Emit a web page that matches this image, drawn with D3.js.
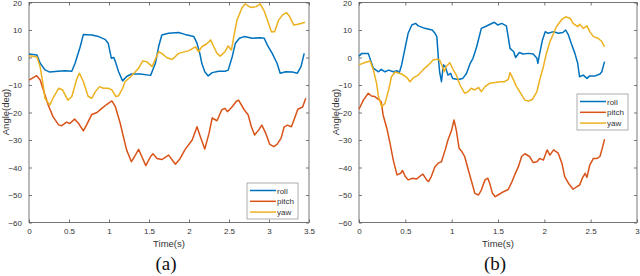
<!DOCTYPE html>
<html><head><meta charset="utf-8">
<script src="https://cdn.jsdelivr.net/npm/d3@7"></script>
<style>
html,body{margin:0;padding:0;background:#fff;}
svg{display:block;font-family:"Liberation Sans",Arial,sans-serif;}
</style></head>
<body><svg id="c" width="640" height="276"></svg>
<script>
// ---------- DATA ----------
const seriesNames = ["roll", "pitch", "yaw"];
const yTicks = [-60, -50, -40, -30, -20, -10, 0, 10, 20];
const xTicksA = [0, 0.5, 1, 1.5, 2, 2.5, 3, 3.5];
const xTicksB = [0, 0.5, 1, 1.5, 2, 2.5, 3];
const panelLabels = ["(a)", "(b)"];

const rollA_t = [0,0.1,0.14,0.2,0.26,0.36,0.45,0.535,0.576,0.64,0.68,0.785,0.87,0.95,0.99,1.03,1.06,1.08,1.12,1.17,1.22,1.28,1.39,1.52,1.58,1.62,1.66,1.745,1.87,1.95,2.06,2.10,2.135,2.16,2.197,2.24,2.29,2.37,2.45,2.49,2.54,2.58,2.63,2.69,2.79,2.89,2.94,2.98,3.04,3.10,3.14,3.21,3.29,3.355,3.40,3.44];
const rollA_v = [1.3,0.9,-2.1,-4.5,-5.3,-5,-4.8,-5,-2.1,3.9,8.4,8.2,7.6,6.6,5.2,-0.3,0,-1.5,-5.2,-8.5,-6.9,-6,-6,-6.5,-2.1,3.9,8.2,8.8,9.1,8.4,7.6,5.2,1.5,-2.1,-5.2,-6.7,-5.5,-5,-5,-4.6,0.3,5.2,7.0,7.6,7.0,7.2,7,4.5,1.5,-2.1,-5.7,-5.2,-5.3,-5.7,-3.3,1.5];

const pitchA_t = [0,0.096,0.14,0.18,0.24,0.30,0.37,0.41,0.47,0.51,0.57,0.62,0.68,0.72,0.785,0.85,0.91,0.97,1.036,1.08,1.14,1.18,1.22,1.28,1.32,1.37,1.41,1.46,1.52,1.55,1.60,1.66,1.745,1.83,1.89,1.95,2.04,2.10,2.14,2.197,2.25,2.29,2.35,2.41,2.45,2.48,2.54,2.59,2.62,2.69,2.74,2.78,2.82,2.87,2.91,2.96,3.01,3.06,3.10,3.15,3.19,3.23,3.28,3.32,3.36,3.42,3.46];
const pitchA_v = [-8.2,-6.6,-8.2,-11.8,-17.3,-21.5,-24.5,-24.8,-23.5,-24,-22.4,-24,-26.7,-24.5,-20.7,-20,-18.5,-17.1,-15.8,-17.9,-23.9,-28.8,-33.6,-37.9,-36,-33.4,-36,-39.3,-36,-35,-36.7,-37.1,-35.5,-38.8,-36.7,-33.5,-30,-25.2,-28.6,-33.3,-27.6,-22,-23,-19,-18.5,-19.7,-17.9,-16,-15.5,-19,-20.9,-25.2,-28.2,-26.4,-24.6,-27.6,-31.6,-32.4,-31.6,-29.4,-25.2,-24.6,-25.2,-22.1,-18.8,-18,-14.8];

const yawA_t = [0,0.1,0.14,0.18,0.2,0.26,0.30,0.37,0.42,0.485,0.535,0.60,0.63,0.68,0.74,0.785,0.83,0.88,0.93,0.995,1.036,1.086,1.12,1.17,1.20,1.27,1.33,1.37,1.42,1.47,1.54,1.58,1.62,1.66,1.72,1.79,1.87,2.0,2.08,2.12,2.16,2.22,2.27,2.31,2.35,2.39,2.45,2.49,2.53,2.56,2.60,2.66,2.70,2.77,2.84,2.89,2.94,2.98,3.03,3.07,3.12,3.17,3.22,3.26,3.31,3.36,3.40,3.45];
const yawA_v = [0.6,0.2,-3.5,-10.6,-14.8,-17.3,-14.8,-11.2,-11.8,-15.5,-14.2,-7.6,-5.7,-8.8,-14.2,-14.8,-12.4,-10.6,-11.2,-11.2,-11.8,-14.2,-13.9,-11.2,-8.8,-7.0,-5.2,-3.9,-1.3,-1.5,-3.3,-0.6,2.1,1.5,0,-0.7,1.5,2.5,3.9,2.1,3.9,4.9,6.4,3.9,1.5,0.5,2.1,4.2,2.7,7.6,13.6,17.9,19.5,18.2,18.5,19.5,16.9,13.6,9.4,9.4,13.6,15.5,16.3,14.8,11.8,12.1,12.4,12.8];

const rollB_t = [0,0.03,0.10,0.13,0.155,0.21,0.24,0.28,0.32,0.37,0.41,0.435,0.46,0.50,0.53,0.57,0.61,0.64,0.71,0.79,0.82,0.84,0.855,0.87,0.89,0.91,0.93,0.96,0.99,1.01,1.07,1.12,1.16,1.20,1.23,1.27,1.32,1.36,1.41,1.46,1.50,1.54,1.59,1.61,1.63,1.67,1.69,1.73,1.77,1.83,1.88,1.92,1.93,1.95,1.98,2.01,2.04,2.10,2.15,2.20,2.23,2.26,2.29,2.33,2.36,2.38,2.42,2.46,2.49,2.55,2.60,2.62,2.64,2.65];
const rollB_v = [0.5,1.5,1.5,-1.5,-3.9,-5.2,-4.3,-5.2,-4.6,-5.2,-4.8,-5.5,-2.7,3.9,8.8,11.8,12.4,11.5,10.6,10,8.8,7.6,0.3,-5.2,-8.8,-2.7,-3.3,-6.4,-5.8,-7.6,-8,-7.6,-5.8,-2.1,-0.3,3.9,10.6,11.2,12.0,12.8,11.8,12.4,11.5,7.6,3.3,2.1,0,1.8,1.3,1.5,1.3,-0.3,-2.1,1.5,6.4,9.4,8.8,9.4,8.8,9.1,10,8.2,5.2,1.5,-2.1,-7,-6.4,-7.6,-6.7,-6.7,-6.0,-5.2,-2.7,-1.5];

const pitchB_t = [0,0.047,0.10,0.135,0.17,0.21,0.24,0.26,0.30,0.335,0.37,0.41,0.45,0.47,0.50,0.53,0.58,0.62,0.66,0.69,0.73,0.75,0.78,0.82,0.86,0.89,0.93,0.96,1.0,1.025,1.05,1.08,1.11,1.14,1.18,1.22,1.25,1.29,1.32,1.36,1.39,1.41,1.44,1.47,1.50,1.56,1.61,1.65,1.68,1.72,1.755,1.79,1.84,1.88,1.92,1.95,1.99,2.03,2.06,2.10,2.15,2.19,2.22,2.26,2.31,2.35,2.38,2.41,2.44,2.46,2.49,2.53,2.57,2.60,2.63,2.65];
const pitchB_v = [-18.8,-15.5,-13,-14,-14.2,-15.2,-16.1,-20.9,-25.7,-31.2,-37.3,-42.7,-42.1,-41.1,-43.3,-44.5,-43.9,-44.2,-43.1,-42.4,-44.5,-45.1,-43.3,-39.7,-38.3,-37.9,-33.6,-30,-26.4,-22.7,-26.4,-33,-34.2,-36,-40.9,-45.7,-49.4,-50,-48.2,-44.5,-43.9,-45.7,-49.4,-50.6,-50,-48.8,-48,-45.2,-42.7,-39.7,-36,-35,-36,-38.2,-37.9,-36.7,-37.3,-33.6,-35.5,-33.6,-34.8,-38.5,-43.3,-45.7,-47.9,-47,-46.4,-43.9,-42.1,-43.6,-39.1,-36.7,-36.7,-36,-32.4,-29.7];

const yawB_t = [0,0.065,0.12,0.155,0.19,0.21,0.245,0.28,0.32,0.35,0.39,0.46,0.515,0.55,0.59,0.64,0.69,0.75,0.80,0.84,0.87,0.90,0.92,0.94,0.98,1.01,1.05,1.09,1.14,1.18,1.21,1.25,1.29,1.32,1.36,1.41,1.47,1.52,1.57,1.61,1.63,1.66,1.70,1.755,1.79,1.83,1.87,1.92,1.95,1.99,2.02,2.06,2.10,2.13,2.19,2.23,2.28,2.31,2.36,2.38,2.42,2.46,2.49,2.53,2.58,2.62,2.65];
const yawB_v = [-2.7,-1.8,-1.3,-4.5,-9.4,-14.2,-17.9,-16.7,-11.8,-7,-5.3,-6,-7.2,-8.8,-7.3,-6.4,-4.5,-2.7,-0.9,-0.6,-0.9,-3.3,-5.2,-3.3,-1.9,-4,-6.4,-10,-13,-12.4,-11.2,-11.8,-10.9,-12.4,-10.6,-9.4,-9.1,-8.8,-8.8,-8,-5.5,-7.6,-10.6,-13.6,-15.5,-15.8,-15.3,-12.4,-8.2,-3.3,1.2,5.7,8.8,11.2,13.9,14.8,14.2,12.4,11.2,12.1,10.6,11.5,9.4,7.6,7,5.8,3.9];

// ---------- DRAW ----------
const colors = {roll:"#0072BD", pitch:"#D95319", yaw:"#EDB120"};
const svg = d3.select("#c");
const axisColor = "#555";

function zip(t, v){ return t.map((d,i)=>[d, v[i]]); }

function panel(opt){
  const x = d3.scaleLinear().domain(opt.xDomain).range([opt.left, opt.right]);
  const y = d3.scaleLinear().domain([-60, 20]).range([opt.bottom, opt.top]);
  const g = svg.append("g");

  // frame
  g.append("rect").attr("x", opt.left).attr("y", opt.top)
    .attr("width", opt.right-opt.left).attr("height", opt.bottom-opt.top)
    .attr("fill","none").attr("stroke", axisColor).attr("stroke-width", 0.8);

  // axes (ticks inward)
  const ax = (a, tr) => {
    const s = g.append("g").attr("transform", tr).call(a);
    s.select(".domain").remove();
    s.selectAll("line").attr("stroke", axisColor).attr("stroke-width", 0.8);
    s.selectAll("text").attr("fill", "#333").style("font-size","8px")
      .style("font-family","'Liberation Sans',Arial,sans-serif");
    return s;
  };
  ax(d3.axisBottom(x).tickValues(opt.xTicks).tickSize(-3).tickPadding(6).tickFormat(d3.format("")), `translate(0,${opt.bottom})`);
  ax(d3.axisTop(x).tickValues(opt.xTicks).tickSize(-3).tickFormat(""), `translate(0,${opt.top})`);
  ax(d3.axisLeft(y).tickValues(yTicks).tickSize(-3).tickPadding(7), `translate(${opt.left},0)`);
  ax(d3.axisRight(y).tickValues(yTicks).tickSize(-3).tickFormat(""), `translate(${opt.right},0)`);

  // lines
  const line = d3.line().x(d=>x(d[0])).y(d=>y(d[1]));
  const data = {roll: zip(opt.roll[0], opt.roll[1]), pitch: zip(opt.pitch[0], opt.pitch[1]), yaw: zip(opt.yaw[0], opt.yaw[1])};
  ["roll","pitch","yaw"].forEach(k=>{
    g.append("path").datum(data[k]).attr("d", line)
      .attr("fill","none").attr("stroke", colors[k]).attr("stroke-width", 1.5)
      .attr("stroke-linejoin","round");
  });

  // axis labels
  g.append("text").attr("x", (opt.left+opt.right)/2).attr("y", 247)
    .attr("text-anchor","middle").attr("fill","#333").style("font-size","9.5px").text("Time(s)");
  g.append("text").attr("transform", `translate(${opt.left-20},112) rotate(-90)`)
    .attr("text-anchor","middle").attr("fill","#333").style("font-size","9.5px").text("Angle(deg)");
  g.append("text").attr("x", opt.labelX).attr("y", 270)
    .attr("text-anchor","middle").attr("fill","#111")
    .style("font-family","'Liberation Serif','Times New Roman',serif").style("font-size","19px").text(opt.label);

  // legend
  const L = opt.legend;
  g.append("rect").attr("x", L.x).attr("y", L.y).attr("width", L.w).attr("height", L.h)
    .attr("fill","#fff").attr("stroke","#999").attr("stroke-width",0.8);
  seriesNames.forEach((k,i)=>{
    const yy = L.y + 7.5 + i*10.8;
    g.append("line").attr("x1", L.x+3).attr("x2", L.x+29).attr("y1", yy).attr("y2", yy)
      .attr("stroke", colors[k]).attr("stroke-width", 1.5);
    g.append("text").attr("x", L.x+30).attr("y", yy+3).attr("fill","#333")
      .style("font-size","8px").text(k);
  });
}

panel({xDomain:[0,3.5], left:29, right:309, top:2.5, bottom:222.5, xTicks:xTicksA,
  roll:[rollA_t, rollA_v], pitch:[pitchA_t, pitchA_v], yaw:[yawA_t, yawA_v],
  label: panelLabels[0], labelX:166, legend:{x:247, y:183, w:51, h:36}});
panel({xDomain:[0,3], left:359, right:637, top:2.5, bottom:222.5, xTicks:xTicksB,
  roll:[rollB_t, rollB_v], pitch:[pitchB_t, pitchB_v], yaw:[yawB_t, yawB_v],
  label: panelLabels[1], labelX:495, legend:{x:577, y:94, w:51, h:36}});
</script></body></html>
